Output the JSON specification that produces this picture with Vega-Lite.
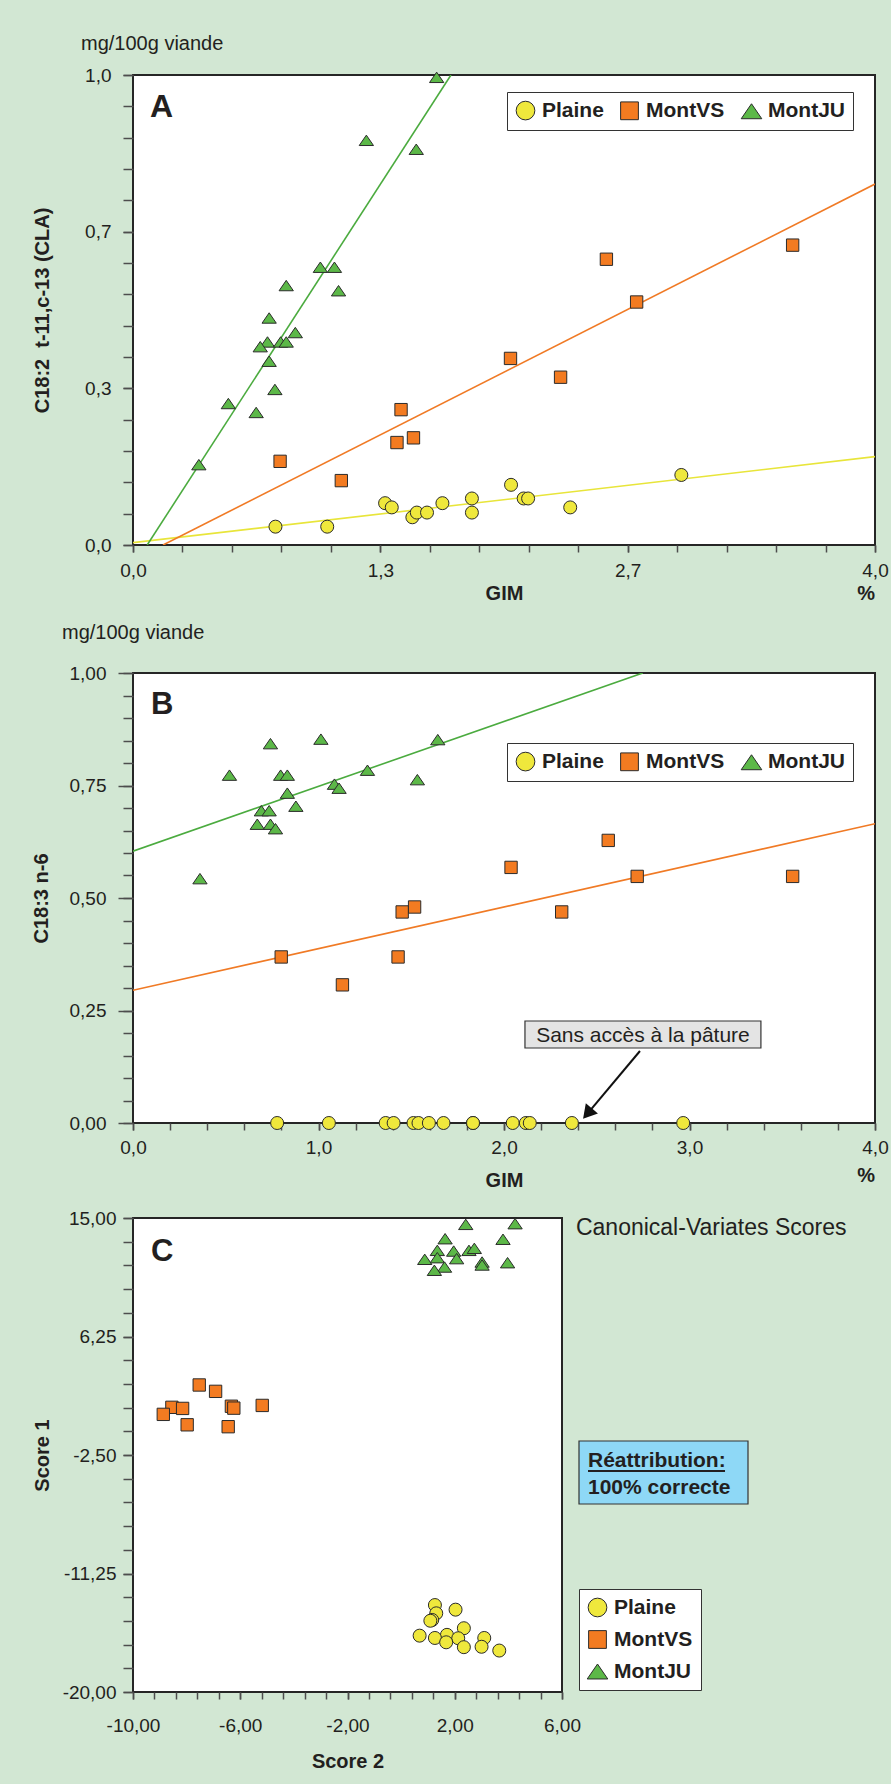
{
  "$schema": "https://vega.github.io/schema/vega-lite/v6.json",
  "background": "#d2e7d3",
  "padding": {"left": 30, "top": 33, "right": 14, "bottom": 40},
  "spacing": 17,
  "resolve": {"scale": {"color": "independent", "shape": "independent"}},
  "config": {
    "font": "Liberation Sans",
    "view": {"stroke": "#262626", "strokeWidth": 2, "fill": "white"},
    "axis": {"domain": false, "grid": false, "tickColor": "#4d4d4d", "tickWidth": 1.5, "labelFontSize": 19, "labelColor": "#231f20", "labelOverlap": false, "labelFlush": false, "labelBound": false, "titleFontSize": 20, "titleFontWeight": "bold", "titleColor": "#231f20"},
    "legend": {"symbolSize": 350, "labelFontSize": 21, "labelFontWeight": "bold", "labelColor": "#231f20", "fillColor": "white", "strokeColor": "#333333", "padding": 8, "labelOffset": 6, "symbolStrokeColor": "#2b2b2b", "symbolStrokeWidth": 1},
    "text": {"color": "#231f20"},
    "point": {"size": 169}
  },
  "datasets": {
    "ptsA": [
      {"groupe": "Plaine", "GIM": 0.768, "val": 0.039}, {"groupe": "Plaine", "GIM": 1.047, "val": 0.039}, {"groupe": "Plaine", "GIM": 1.359, "val": 0.089}, {"groupe": "Plaine", "GIM": 1.395, "val": 0.080}, {"groupe": "Plaine", "GIM": 1.506, "val": 0.059}, {"groupe": "Plaine", "GIM": 1.530, "val": 0.069}, {"groupe": "Plaine", "GIM": 1.585, "val": 0.069}, {"groupe": "Plaine", "GIM": 1.668, "val": 0.089}, {"groupe": "Plaine", "GIM": 1.827, "val": 0.099}, {"groupe": "Plaine", "GIM": 1.827, "val": 0.069}, {"groupe": "Plaine", "GIM": 2.038, "val": 0.128}, {"groupe": "Plaine", "GIM": 2.106, "val": 0.099}, {"groupe": "Plaine", "GIM": 2.130, "val": 0.099}, {"groupe": "Plaine", "GIM": 2.357, "val": 0.080}, {"groupe": "Plaine", "GIM": 2.956, "val": 0.149},
      {"groupe": "MontVS", "GIM": 3.556, "val": 0.638}, {"groupe": "MontVS", "GIM": 2.552, "val": 0.608}, {"groupe": "MontVS", "GIM": 2.715, "val": 0.517}, {"groupe": "MontVS", "GIM": 2.035, "val": 0.397}, {"groupe": "MontVS", "GIM": 2.305, "val": 0.357}, {"groupe": "MontVS", "GIM": 1.445, "val": 0.288}, {"groupe": "MontVS", "GIM": 1.423, "val": 0.218}, {"groupe": "MontVS", "GIM": 1.512, "val": 0.228}, {"groupe": "MontVS", "GIM": 0.793, "val": 0.178}, {"groupe": "MontVS", "GIM": 1.123, "val": 0.137},
      {"groupe": "MontJU", "GIM": 1.637, "val": 0.995}, {"groupe": "MontJU", "GIM": 1.258, "val": 0.861}, {"groupe": "MontJU", "GIM": 1.527, "val": 0.842}, {"groupe": "MontJU", "GIM": 1.010, "val": 0.591}, {"groupe": "MontJU", "GIM": 1.086, "val": 0.591}, {"groupe": "MontJU", "GIM": 0.826, "val": 0.552}, {"groupe": "MontJU", "GIM": 1.108, "val": 0.541}, {"groupe": "MontJU", "GIM": 0.734, "val": 0.483}, {"groupe": "MontJU", "GIM": 0.875, "val": 0.452}, {"groupe": "MontJU", "GIM": 0.725, "val": 0.432}, {"groupe": "MontJU", "GIM": 0.796, "val": 0.432}, {"groupe": "MontJU", "GIM": 0.826, "val": 0.432}, {"groupe": "MontJU", "GIM": 0.686, "val": 0.422}, {"groupe": "MontJU", "GIM": 0.734, "val": 0.391}, {"groupe": "MontJU", "GIM": 0.765, "val": 0.331}, {"groupe": "MontJU", "GIM": 0.514, "val": 0.301}, {"groupe": "MontJU", "GIM": 0.664, "val": 0.282}, {"groupe": "MontJU", "GIM": 0.355, "val": 0.171}
    ],
    "linesA": [
      {"groupe": "Plaine", "GIM": 0, "val": 0.005}, {"groupe": "Plaine", "GIM": 4, "val": 0.188},
      {"groupe": "MontVS", "GIM": 0.162, "val": 0}, {"groupe": "MontVS", "GIM": 4, "val": 0.768},
      {"groupe": "MontJU", "GIM": 0.0765, "val": 0}, {"groupe": "MontJU", "GIM": 1.714, "val": 1.0}
    ],
    "ptsB": [
      {"groupe": "Plaine", "GIM": 0.777, "val": 0}, {"groupe": "Plaine", "GIM": 1.056, "val": 0}, {"groupe": "Plaine", "GIM": 1.362, "val": 0}, {"groupe": "Plaine", "GIM": 1.405, "val": 0}, {"groupe": "Plaine", "GIM": 1.512, "val": 0}, {"groupe": "Plaine", "GIM": 1.539, "val": 0}, {"groupe": "Plaine", "GIM": 1.595, "val": 0}, {"groupe": "Plaine", "GIM": 1.674, "val": 0}, {"groupe": "Plaine", "GIM": 1.833, "val": 0}, {"groupe": "Plaine", "GIM": 1.833, "val": 0}, {"groupe": "Plaine", "GIM": 2.047, "val": 0}, {"groupe": "Plaine", "GIM": 2.118, "val": 0}, {"groupe": "Plaine", "GIM": 2.139, "val": 0}, {"groupe": "Plaine", "GIM": 2.366, "val": 0}, {"groupe": "Plaine", "GIM": 2.966, "val": 0},
      {"groupe": "MontVS", "GIM": 2.562, "val": 0.628}, {"groupe": "MontVS", "GIM": 2.038, "val": 0.568}, {"groupe": "MontVS", "GIM": 2.718, "val": 0.548}, {"groupe": "MontVS", "GIM": 3.556, "val": 0.548}, {"groupe": "MontVS", "GIM": 1.518, "val": 0.480}, {"groupe": "MontVS", "GIM": 1.451, "val": 0.469}, {"groupe": "MontVS", "GIM": 2.311, "val": 0.469}, {"groupe": "MontVS", "GIM": 0.799, "val": 0.369}, {"groupe": "MontVS", "GIM": 1.429, "val": 0.369}, {"groupe": "MontVS", "GIM": 1.129, "val": 0.307},
      {"groupe": "MontJU", "GIM": 0.741, "val": 0.843}, {"groupe": "MontJU", "GIM": 1.013, "val": 0.853}, {"groupe": "MontJU", "GIM": 1.643, "val": 0.852}, {"groupe": "MontJU", "GIM": 0.520, "val": 0.773}, {"groupe": "MontJU", "GIM": 0.796, "val": 0.773}, {"groupe": "MontJU", "GIM": 0.832, "val": 0.773}, {"groupe": "MontJU", "GIM": 1.264, "val": 0.784}, {"groupe": "MontJU", "GIM": 1.086, "val": 0.753}, {"groupe": "MontJU", "GIM": 1.111, "val": 0.744}, {"groupe": "MontJU", "GIM": 1.533, "val": 0.763}, {"groupe": "MontJU", "GIM": 0.832, "val": 0.733}, {"groupe": "MontJU", "GIM": 0.878, "val": 0.704}, {"groupe": "MontJU", "GIM": 0.692, "val": 0.694}, {"groupe": "MontJU", "GIM": 0.734, "val": 0.694}, {"groupe": "MontJU", "GIM": 0.670, "val": 0.664}, {"groupe": "MontJU", "GIM": 0.741, "val": 0.664}, {"groupe": "MontJU", "GIM": 0.768, "val": 0.654}, {"groupe": "MontJU", "GIM": 0.361, "val": 0.543}
    ],
    "linesB": [
      {"groupe": "MontVS", "GIM": 0, "val": 0.295}, {"groupe": "MontVS", "GIM": 4, "val": 0.665},
      {"groupe": "MontJU", "GIM": 0, "val": 0.604}, {"groupe": "MontJU", "GIM": 2.748, "val": 1.0}
    ],
    "ptsC": [
      {"groupe": "Plaine", "s2": 1.26, "s1": -13.58}, {"groupe": "Plaine", "s2": 2.03, "s1": -13.92}, {"groupe": "Plaine", "s2": 1.31, "s1": -14.19}, {"groupe": "Plaine", "s2": 1.16, "s1": -14.68}, {"groupe": "Plaine", "s2": 1.09, "s1": -14.74}, {"groupe": "Plaine", "s2": 2.34, "s1": -15.29}, {"groupe": "Plaine", "s2": 0.69, "s1": -15.84}, {"groupe": "Plaine", "s2": 1.71, "s1": -15.78}, {"groupe": "Plaine", "s2": 1.26, "s1": -16.01}, {"groupe": "Plaine", "s2": 2.13, "s1": -16.03}, {"groupe": "Plaine", "s2": 1.68, "s1": -16.33}, {"groupe": "Plaine", "s2": 3.10, "s1": -16.01}, {"groupe": "Plaine", "s2": 2.34, "s1": -16.69}, {"groupe": "Plaine", "s2": 3.00, "s1": -16.66}, {"groupe": "Plaine", "s2": 3.66, "s1": -16.94},
      {"groupe": "MontVS", "s2": -7.53, "s1": 2.67}, {"groupe": "MontVS", "s2": -6.92, "s1": 2.20}, {"groupe": "MontVS", "s2": -5.18, "s1": 1.16}, {"groupe": "MontVS", "s2": -6.33, "s1": 1.10}, {"groupe": "MontVS", "s2": -6.24, "s1": 0.96}, {"groupe": "MontVS", "s2": -8.55, "s1": 1.02}, {"groupe": "MontVS", "s2": -8.15, "s1": 0.94}, {"groupe": "MontVS", "s2": -8.87, "s1": 0.50}, {"groupe": "MontVS", "s2": -7.98, "s1": -0.27}, {"groupe": "MontVS", "s2": -6.45, "s1": -0.41},
      {"groupe": "MontJU", "s2": 2.41, "s1": 14.53}, {"groupe": "MontJU", "s2": 4.25, "s1": 14.58}, {"groupe": "MontJU", "s2": 1.64, "s1": 13.47}, {"groupe": "MontJU", "s2": 3.80, "s1": 13.43}, {"groupe": "MontJU", "s2": 1.35, "s1": 12.61}, {"groupe": "MontJU", "s2": 1.96, "s1": 12.56}, {"groupe": "MontJU", "s2": 2.53, "s1": 12.61}, {"groupe": "MontJU", "s2": 2.73, "s1": 12.76}, {"groupe": "MontJU", "s2": 0.88, "s1": 11.95}, {"groupe": "MontJU", "s2": 1.35, "s1": 12.07}, {"groupe": "MontJU", "s2": 2.07, "s1": 12.00}, {"groupe": "MontJU", "s2": 3.02, "s1": 11.75}, {"groupe": "MontJU", "s2": 3.02, "s1": 11.53}, {"groupe": "MontJU", "s2": 3.97, "s1": 11.70}, {"groupe": "MontJU", "s2": 1.62, "s1": 11.38}, {"groupe": "MontJU", "s2": 1.24, "s1": 11.14}
    ]
  },
  "vconcat": [
    {
      "width": 742,
      "height": 470,
      "title": {"text": "mg/100g viande", "anchor": "start", "frame": "group", "dx": -52, "dy": 2, "offset": -6, "baseline": "bottom", "fontSize": 20, "fontWeight": "normal", "color": "#231f20"},
      "resolve": {"axis": {"x": "independent", "y": "independent"}},
      "layer": [
        {
          "data": {"name": "linesA"},
          "transform": [{"filter": "datum.groupe === 'Plaine'"}],
          "mark": {"type": "line", "strokeWidth": 1.6, "clip": true, "color": "#e8e53a"},
          "encoding": {
            "x": {"field": "GIM", "type": "quantitative", "scale": {"domain": [0, 4], "nice": false, "zero": false},
              "axis": {"orient": "bottom", "title": null, "labels": false, "values": [0, 0.2666667, 0.5333333, 0.8, 1.0666667, 1.3333333, 1.6, 1.8666667, 2.1333333, 2.4, 2.6666667, 2.9333333, 3.2, 3.4666667, 3.7333333, 4], "tickSize": 7}},
            "y": {"field": "val", "type": "quantitative", "scale": {"domain": [0, 1], "nice": false, "zero": false},
              "axis": {"orient": "left", "title": null, "labels": false, "values": [0, 0.0666667, 0.1333333, 0.2, 0.2666667, 0.3333333, 0.4, 0.4666667, 0.5333333, 0.6, 0.6666667, 0.7333333, 0.8, 0.8666667, 0.9333333, 1], "tickSize": 10}}
          }
        },
        {
          "data": {"name": "linesA"},
          "transform": [{"filter": "datum.groupe === 'MontVS'"}],
          "mark": {"type": "line", "strokeWidth": 1.6, "clip": true, "color": "#f07a25"},
          "encoding": {"x": {"field": "GIM", "type": "quantitative", "axis": null}, "y": {"field": "val", "type": "quantitative", "axis": null}}
        },
        {
          "data": {"name": "linesA"},
          "transform": [{"filter": "datum.groupe === 'MontJU'"}],
          "mark": {"type": "line", "strokeWidth": 1.6, "clip": true, "color": "#4bab3f"},
          "encoding": {"x": {"field": "GIM", "type": "quantitative", "axis": null}, "y": {"field": "val", "type": "quantitative", "axis": null}}
        },
        {
          "data": {"name": "ptsA"},
          "mark": {"type": "point", "filled": true, "opacity": 1, "stroke": "#2b2b2b", "strokeWidth": 1},
          "encoding": {
            "x": {"field": "GIM", "type": "quantitative",
              "axis": {"orient": "bottom", "title": "GIM", "values": [0, 1.3333333, 2.6666667, 4], "labelExpr": "replace(format(datum.value,'.1f'),'.',',')", "labelOverlap": false, "labelFlush": false, "tickSize": 7, "labelPadding": 9, "titleY": 38}},
            "y": {"field": "val", "type": "quantitative",
              "axis": {"orient": "left", "title": "C18:2\u00a0 t-11,c-13 (CLA)", "values": [0, 0.3333333, 0.6666667, 1], "labelExpr": "replace(format(datum.value,'.1f'),'.',',')", "labelOverlap": false, "tickSize": 10, "labelPadding": 12, "titleX": -85, "titleBaseline": "alphabetic"}},
            "color": {"field": "groupe", "type": "nominal", "scale": {"domain": ["Plaine", "MontVS", "MontJU"], "range": ["#efe83c", "#f37b21", "#5cb848"]},
              "legend": {"title": null, "orient": "none", "legendX": 374, "legendY": 17, "direction": "horizontal", "columnPadding": 14}},
            "shape": {"field": "groupe", "type": "nominal", "scale": {"domain": ["Plaine", "MontVS", "MontJU"], "range": ["circle", "M-0.95,-0.95H0.95V0.95H-0.95Z", "M-1.1,0.8L1.1,0.8L0,-0.8Z"]},
              "legend": {"title": null, "orient": "none", "legendX": 374, "legendY": 17, "direction": "horizontal", "columnPadding": 14}}
          }
        },
        {
          "data": {"values": [{"t": "A"}]},
          "mark": {"type": "text", "fontSize": 32, "fontWeight": "bold", "align": "left", "baseline": "alphabetic"},
          "encoding": {"text": {"field": "t"}, "x": {"datum": 0.092, "type": "quantitative", "axis": null}, "y": {"datum": 0.9106, "type": "quantitative", "axis": null}}
        },
        {
          "data": {"values": [{"t": "%"}]},
          "mark": {"type": "text", "fontSize": 20, "fontWeight": "bold", "align": "right", "baseline": "alphabetic"},
          "encoding": {"text": {"field": "t"}, "x": {"datum": 4.0, "type": "quantitative", "axis": null}, "y": {"datum": -0.117, "type": "quantitative", "axis": null}}
        }
      ]
    },
    {
      "width": 742,
      "height": 450,
      "title": {"text": "mg/100g viande", "anchor": "start", "frame": "group", "dx": -71, "offset": 1, "baseline": "bottom", "fontSize": 20, "fontWeight": "normal", "color": "#231f20"},
      "resolve": {"axis": {"x": "independent", "y": "independent"}},
      "layer": [
        {
          "data": {"name": "linesB"},
          "transform": [{"filter": "datum.groupe === 'MontVS'"}],
          "mark": {"type": "line", "strokeWidth": 1.6, "clip": true, "color": "#f07a25"},
          "encoding": {
            "x": {"field": "GIM", "type": "quantitative", "scale": {"domain": [0, 4], "nice": false, "zero": false},
              "axis": {"orient": "bottom", "title": null, "labels": false, "values": [0, 0.2, 0.4, 0.6, 0.8, 1, 1.2, 1.4, 1.6, 1.8, 2, 2.2, 2.4, 2.6, 2.8, 3, 3.2, 3.4, 3.6, 3.8, 4], "tickSize": 7}},
            "y": {"field": "val", "type": "quantitative", "scale": {"domain": [0, 1], "nice": false, "zero": false},
              "axis": {"orient": "left", "title": null, "labels": false, "values": [0, 0.05, 0.1, 0.15, 0.2, 0.25, 0.3, 0.35, 0.4, 0.45, 0.5, 0.55, 0.6, 0.65, 0.7, 0.75, 0.8, 0.85, 0.9, 0.95, 1], "tickSize": 10}}
          }
        },
        {
          "data": {"name": "linesB"},
          "transform": [{"filter": "datum.groupe === 'MontJU'"}],
          "mark": {"type": "line", "strokeWidth": 1.6, "clip": true, "color": "#4bab3f"},
          "encoding": {"x": {"field": "GIM", "type": "quantitative", "axis": null}, "y": {"field": "val", "type": "quantitative", "axis": null}}
        },
        {
          "data": {"values": [{"box": "Sans accès à la pâture"}]},
          "mark": {"type": "rect", "fill": "#e4e4e4", "stroke": "#333333", "strokeWidth": 1.2},
          "encoding": {"x": {"datum": 2.113, "type": "quantitative", "axis": null}, "x2": {"datum": 3.385}, "y": {"datum": 0.2267, "type": "quantitative", "axis": null}, "y2": {"datum": 0.1667}}
        },
        {
          "data": {"values": [{"t": "Sans accès à la pâture"}]},
          "mark": {"type": "text", "fontSize": 21, "align": "center", "baseline": "alphabetic"},
          "encoding": {"text": {"field": "t"}, "x": {"datum": 2.749, "type": "quantitative", "axis": null}, "y": {"datum": 0.18, "type": "quantitative", "axis": null}}
        },
        {
          "data": {"values": [{"fleche": "Sans accès à la pâture"}]},
          "mark": {"type": "rule", "strokeWidth": 2, "color": "#111111"},
          "encoding": {"x": {"datum": 2.733, "type": "quantitative", "axis": null}, "y": {"datum": 0.16, "type": "quantitative", "axis": null}, "x2": {"datum": 2.45}, "y2": {"datum": 0.021}}
        },
        {
          "data": {"values": [{"fleche": "Sans accès à la pâture"}]},
          "mark": {"type": "point", "shape": "triangle-up", "filled": true, "opacity": 1, "color": "#111111", "size": 250, "angle": 220},
          "encoding": {"x": {"datum": 2.45, "type": "quantitative", "axis": null}, "y": {"datum": 0.021, "type": "quantitative", "axis": null}}
        },
        {
          "data": {"name": "ptsB"},
          "mark": {"type": "point", "filled": true, "opacity": 1, "stroke": "#2b2b2b", "strokeWidth": 1},
          "encoding": {
            "x": {"field": "GIM", "type": "quantitative",
              "axis": {"orient": "bottom", "title": "GIM", "values": [0, 1, 2, 3, 4], "labelExpr": "replace(format(datum.value,'.1f'),'.',',')", "labelOverlap": false, "labelFlush": false, "tickSize": 7, "labelPadding": 8, "titleY": 47}},
            "y": {"field": "val", "type": "quantitative",
              "axis": {"orient": "left", "title": "C18:3 n-6", "values": [0, 0.25, 0.5, 0.75, 1], "labelExpr": "replace(format(datum.value,'.2f'),'.',',')", "labelOverlap": false, "tickSize": 15, "labelPadding": 12, "titleX": -86, "titleBaseline": "alphabetic"}},
            "color": {"field": "groupe", "type": "nominal", "scale": {"domain": ["Plaine", "MontVS", "MontJU"], "range": ["#efe83c", "#f37b21", "#5cb848"]},
              "legend": {"title": null, "orient": "none", "legendX": 374, "legendY": 70, "direction": "horizontal", "columnPadding": 14}},
            "shape": {"field": "groupe", "type": "nominal", "scale": {"domain": ["Plaine", "MontVS", "MontJU"], "range": ["circle", "M-0.95,-0.95H0.95V0.95H-0.95Z", "M-1.1,0.8L1.1,0.8L0,-0.8Z"]},
              "legend": {"title": null, "orient": "none", "legendX": 374, "legendY": 70, "direction": "horizontal", "columnPadding": 14}}
          }
        },
        {
          "data": {"values": [{"t": "B"}]},
          "mark": {"type": "text", "fontSize": 31, "fontWeight": "bold", "align": "left", "baseline": "alphabetic"},
          "encoding": {"text": {"field": "t"}, "x": {"datum": 0.097, "type": "quantitative", "axis": null}, "y": {"datum": 0.909, "type": "quantitative", "axis": null}}
        },
        {
          "data": {"values": [{"t": "%"}]},
          "mark": {"type": "text", "fontSize": 20, "fontWeight": "bold", "align": "right", "baseline": "alphabetic"},
          "encoding": {"text": {"field": "t"}, "x": {"datum": 4.0, "type": "quantitative", "axis": null}, "y": {"datum": -0.131, "type": "quantitative", "axis": null}}
        }
      ]
    },
    {
      "width": 429,
      "height": 474,
      "resolve": {"axis": {"x": "independent", "y": "independent"}},
      "layer": [
        {
          "data": {"name": "ptsC"},
          "mark": {"type": "point", "filled": true, "opacity": 1, "stroke": "#2b2b2b", "strokeWidth": 1},
          "encoding": {
            "x": {"field": "s2", "type": "quantitative", "scale": {"domain": [-10, 6], "nice": false, "zero": false},
              "axis": {"orient": "bottom", "title": "Score 2", "values": [-10, -6, -2, 2, 6], "labelExpr": "replace(replace(format(datum.value,'.2f'),'.',','),'\u2212','-')", "labelOverlap": false, "labelFlush": false, "tickSize": 7, "labelPadding": 17, "titleY": 59}},
            "y": {"field": "s1", "type": "quantitative", "scale": {"domain": [-20, 15], "nice": false, "zero": false},
              "axis": {"orient": "left", "title": "Score 1", "values": [-20, -11.25, -2.5, 6.25, 15], "labelExpr": "replace(replace(format(datum.value,'.2f'),'.',','),'\u2212','-')", "labelOverlap": false, "tickSize": 10, "labelPadding": 7, "titleX": -85, "titleBaseline": "alphabetic"}},
            "color": {"field": "groupe", "type": "nominal", "scale": {"domain": ["Plaine", "MontVS", "MontJU"], "range": ["#efe83c", "#f37b21", "#5cb848"]},
              "legend": {"title": null, "orient": "none", "legendX": 446, "legendY": 371, "direction": "vertical", "rowPadding": 9}},
            "shape": {"field": "groupe", "type": "nominal", "scale": {"domain": ["Plaine", "MontVS", "MontJU"], "range": ["circle", "M-0.95,-0.95H0.95V0.95H-0.95Z", "M-1.1,0.8L1.1,0.8L0,-0.8Z"]},
              "legend": {"title": null, "orient": "none", "legendX": 446, "legendY": 371, "direction": "vertical", "rowPadding": 9}}
          }
        },
        {
          "data": {"values": [{"t": "C"}]},
          "mark": {"type": "text", "fontSize": 31, "fontWeight": "bold", "align": "left", "baseline": "alphabetic"},
          "encoding": {"text": {"field": "t"},
            "x": {"datum": -9.33, "type": "quantitative", "axis": {"orient": "bottom", "title": null, "labels": false, "values": [-10, -9.2, -8.4, -7.6, -6.8, -6, -5.2, -4.4, -3.6, -2.8, -2, -1.2, -0.4, 0.4, 1.2, 2, 2.8, 3.6, 4.4, 5.2, 6], "tickSize": 7}},
            "y": {"datum": 11.82, "type": "quantitative", "axis": {"orient": "left", "title": null, "labels": false, "values": [-20, -18.25, -16.5, -14.75, -13, -11.25, -9.5, -7.75, -6, -4.25, -2.5, -0.75, 1, 2.75, 4.5, 6.25, 8, 9.75, 11.5, 13.25, 15], "tickSize": 10}}}
        },
        {
          "data": {"values": [{"t": "Canonical-Variates Scores"}]},
          "mark": {"type": "text", "fontSize": 23, "align": "left", "baseline": "alphabetic"},
          "encoding": {"text": {"field": "t"}, "x": {"datum": 6.52, "type": "quantitative", "axis": null}, "y": {"datum": 13.74, "type": "quantitative", "axis": null}}
        },
        {
          "data": {"values": [{"box": "Réattribution"}]},
          "mark": {"type": "rect", "fill": "#8ed8f6", "stroke": "#333333", "strokeWidth": 1.2},
          "encoding": {"x": {"datum": 6.634, "type": "quantitative", "axis": null}, "x2": {"datum": 12.937}, "y": {"datum": -1.466, "type": "quantitative", "axis": null}, "y2": {"datum": -6.118}}
        },
        {
          "data": {"values": [{"t": "Réattribution:"}]},
          "mark": {"type": "text", "fontSize": 21, "fontWeight": "bold", "align": "left", "baseline": "alphabetic"},
          "encoding": {"text": {"field": "t"}, "x": {"datum": 6.97, "type": "quantitative", "axis": null}, "y": {"datum": -3.386, "type": "quantitative", "axis": null}}
        },
        {
          "data": {"values": [{"souligne": "Réattribution:"}]},
          "mark": {"type": "rule", "strokeWidth": 2, "color": "#231f20"},
          "encoding": {"x": {"datum": 6.97, "type": "quantitative", "axis": null}, "x2": {"datum": 12.08}, "y": {"datum": -3.68, "type": "quantitative", "axis": null}}
        },
        {
          "data": {"values": [{"t": "100% correcte"}]},
          "mark": {"type": "text", "fontSize": 21, "fontWeight": "bold", "align": "left", "baseline": "alphabetic"},
          "encoding": {"text": {"field": "t"}, "x": {"datum": 6.97, "type": "quantitative", "axis": null}, "y": {"datum": -5.38, "type": "quantitative", "axis": null}}
        }
      ]
    }
  ]
}
